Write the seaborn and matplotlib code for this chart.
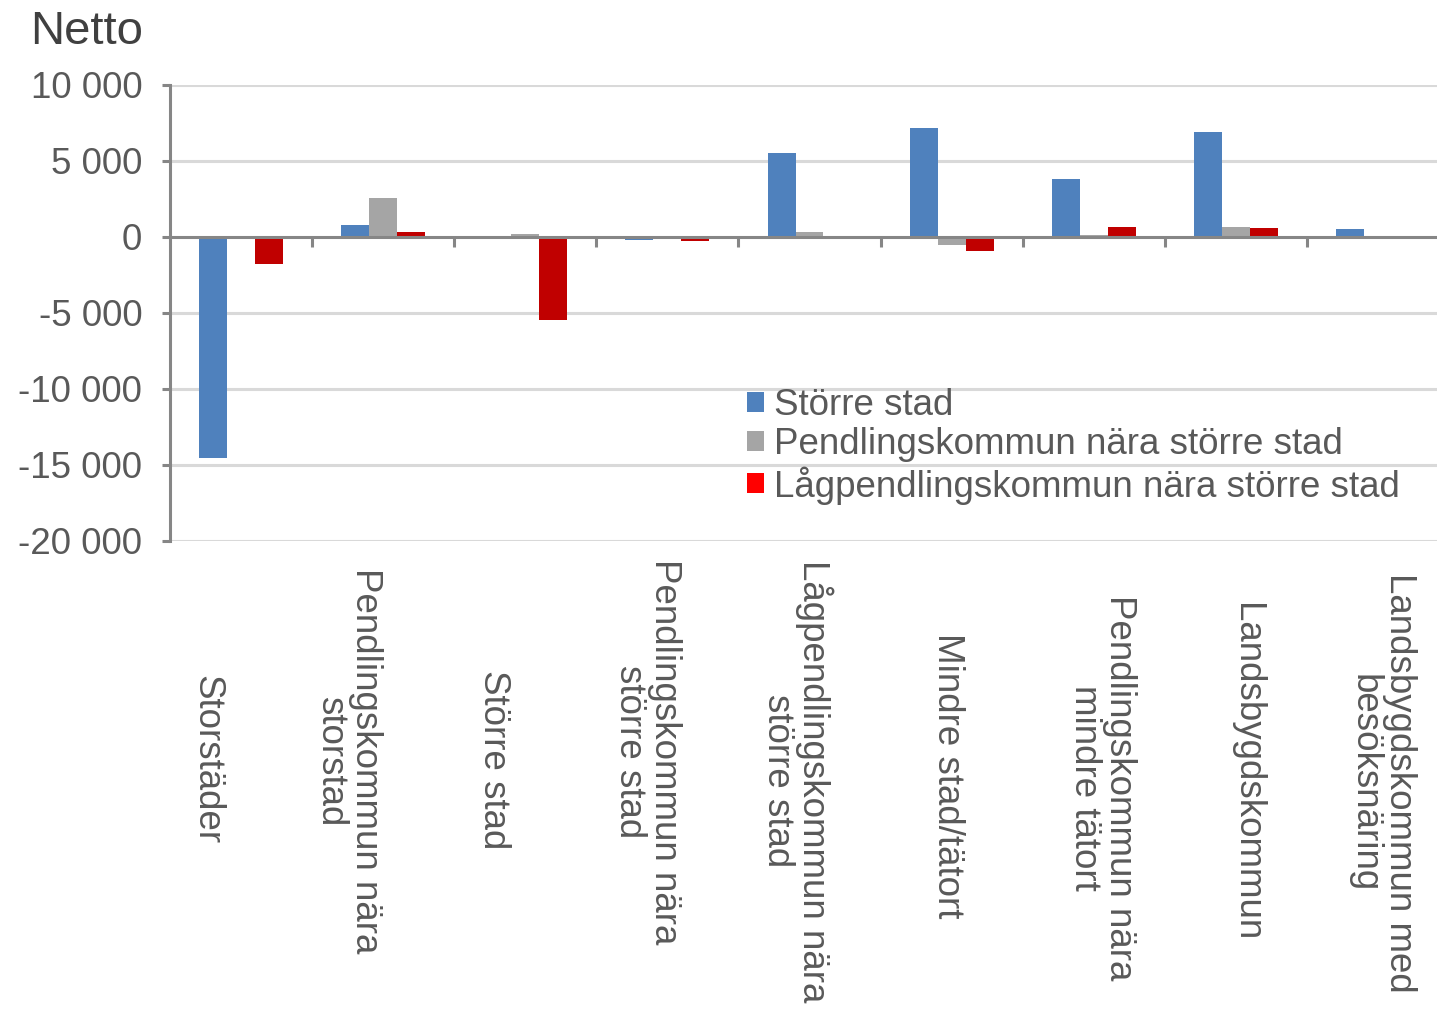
import matplotlib
matplotlib.use("Agg")
import matplotlib.pyplot as plt
import matplotlib.ticker as mticker
from matplotlib.patches import Patch
import seaborn as sns
import pandas as pd

categories = [
    "Storstäder",
    "Pendlingskommun nära\nstorstad",
    "Större stad",
    "Pendlingskommun nära\nstörre stad",
    "Lågpendlingskommun nära\nstörre stad",
    "Mindre stad/tätort",
    "Pendlingskommun nära\nmindre tätort",
    "Landsbygdskommun",
    "Landsbygdskommun med\nbesöksnäring",
]
series_names = [
    "Större stad",
    "Pendlingskommun nära större stad",
    "Lågpendlingskommun nära större stad",
]
storre_stad = [-14550, 800, 0, -200, 5500, 7150, 3800, 6900, 500]
pendling_storre = [0, 2550, 200, 0, 300, -500, 100, 650, 0]
lagpendling_storre = [-1750, 300, -5450, -250, 0, -900, 650, 600, 0]
y_ticks = [10000, 5000, 0, -5000, -10000, -15000, -20000]

# layout: pixel centres of the rotated category labels (Excel places them unevenly)
label_x_px = [207, 348, 493, 647, 797, 948, 1102, 1246, 1382]
label_y_px = [760, 761, 760, 752, 781, 776, 788, 772, 783]

bar_colors = ["#4F81BD", "#A5A5A5", "#C00000"]
legend_colors = ["#4F81BD", "#A5A5A5", "#FF0000"]
text_color = "#595959"
axis_color = "#868686"
grid_color = "#D9D9D9"
FS = 26.5

rows = []
for name, vals in zip(series_names, [storre_stad, pendling_storre, lagpendling_storre]):
    for c, v in zip(categories, vals):
        rows.append({"Kategori": c, "Serie": name, "Netto": v})
df = pd.DataFrame(rows)

sns.set_theme(style="white")
plt.rcParams["font.family"] = ["Liberation Sans", "DejaVu Sans"]

W, H = 1437, 1010
fig = plt.figure(figsize=(W / 100, H / 100), dpi=100)
ax = fig.add_axes([170 / W, 1 - 541 / H, 1279 / W, (541 - 85) / H])

sns.barplot(data=df, x="Kategori", y="Netto", hue="Serie", order=categories,
            hue_order=series_names, palette=bar_colors, width=0.59,
            saturation=1, ax=ax, legend=False, zorder=3, linewidth=0)

ax.set_ylim(-20000, 10000)
ax.set_xlim(-0.5, len(categories) - 0.5)
ax.set_yticks(y_ticks)
ax.yaxis.set_major_formatter(mticker.FuncFormatter(
    lambda v, p: f"{int(v):,}".replace(",", " ")))
ax.tick_params(axis="y", length=6, width=2.2, color=axis_color, pad=14,
               labelsize=FS, labelcolor=text_color, direction="out", left=True)
for yv in y_ticks:
    if yv != 0:
        ax.axhline(yv, color=grid_color, lw=2.2, zorder=1)

ax.set_xticks([i + 0.5 for i in range(len(categories) - 1)])
ax.set_xticklabels([])
ax.tick_params(axis="x", length=7, width=2.2, color=axis_color, direction="out", bottom=True)
ax.spines["bottom"].set_position(("data", 0))
ax.spines["bottom"].set_color(axis_color)
ax.spines["bottom"].set_linewidth(2.2)
ax.spines["bottom"].set_zorder(4)
ax.spines["left"].set_color(axis_color)
ax.spines["left"].set_linewidth(2.2)
ax.spines["top"].set_visible(False)
ax.spines["right"].set_visible(False)
ax.set_xlabel("")
ax.set_ylabel("")
ax.grid(False)

for c, xp, yp in zip(categories, label_x_px, label_y_px):
    fig.text(xp / W, 1 - yp / H, c, rotation=270,
             ha="center", va="center", multialignment="center", fontsize=FS,
             color=text_color, linespacing=1.0)

fig.text(30 / W, 1 - 44 / H, "Netto", fontsize=34, color="#404040",
         ha="left", va="baseline")

handles = [Patch(facecolor=col, edgecolor="none") for col in legend_colors]
fig.legend(handles, series_names, loc="upper left",
           bbox_to_anchor=(747 / W, 1 - 388 / H), frameon=False,
           fontsize=FS, labelcolor=text_color, handlelength=0.46,
           handleheight=0.46, handletextpad=0.28, labelspacing=0.11,
           borderpad=0, borderaxespad=0)

fig.savefig("out.png", dpi=100)
